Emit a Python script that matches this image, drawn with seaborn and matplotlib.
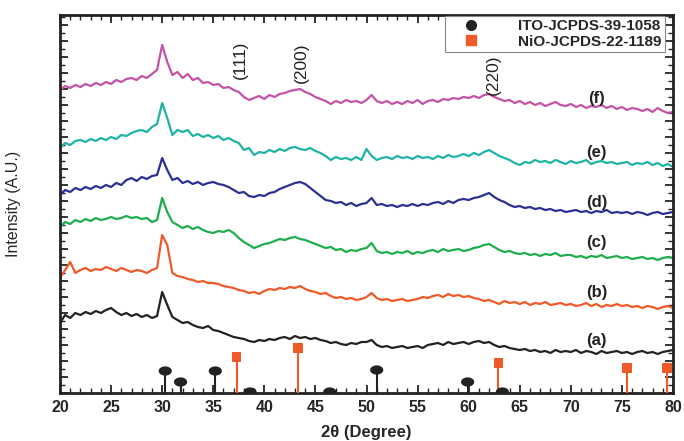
import numpy as np
import pandas as pd
import matplotlib
matplotlib.use("Agg")
import matplotlib.pyplot as plt
from matplotlib.ticker import MultipleLocator
from matplotlib.lines import Line2D
from matplotlib.path import Path
import seaborn as sns

# ---- data (2theta grid in degrees, 0.5 deg step from 20 to 80) ----
two_theta = [20.0 + 0.5 * i for i in range(121)]

int_a = [70, 78, 75, 80, 78, 81, 79, 82, 80, 83,
         85, 81, 78, 80, 77, 79, 76, 78, 75, 77,
         101, 88, 76, 73, 70, 71, 68, 66, 65, 67,
         63, 62, 60, 58, 56, 55, 54, 52, 51, 53,
         52, 54, 53, 55, 56, 54, 57, 55, 56, 54,
         55, 53, 52, 50, 51, 49, 48, 50, 49, 51,
         51, 53, 48, 46, 47, 45, 46, 47, 45, 46,
         47, 45, 48, 49, 50, 48, 51, 49, 50, 51,
         49, 51, 52, 50, 51, 48, 46, 47, 45, 44,
         43, 44, 42, 43, 41, 42, 40, 43, 41, 42,
         41, 43, 40, 42, 41, 39, 42, 40, 41, 42,
         40, 41, 39, 41, 42, 40, 41, 39, 41, 42,
         43]
int_b = [115, 123, 131, 120, 123, 125, 122, 124, 123, 126,
         124, 122, 125, 123, 121, 123, 122, 120, 123, 125,
         158, 148, 120, 117, 116, 114, 113, 111, 112, 110,
         110, 109, 107, 106, 105, 103, 102, 100, 101, 99,
         102, 104, 103, 105, 104, 106, 105, 107, 104, 102,
         101, 99, 100, 97, 95, 96, 94, 95, 93, 94,
         96, 100, 95, 93, 94, 92, 93, 94, 92, 93,
         94, 96, 95, 97, 98, 96, 99, 97, 98, 96,
         97, 95, 94, 92, 93, 91, 89, 92, 90, 91,
         89, 91, 88, 90, 89, 91, 88, 89, 90, 88,
         89, 87, 88, 90, 87, 89, 86, 88, 87, 89,
         87, 88, 86, 87, 85, 87, 86, 84, 86, 87,
         85]
int_c = [166, 171, 169, 173, 171, 174, 172, 175, 173, 174,
         176, 174, 175, 177, 175, 176, 174, 175, 171, 173,
         195, 181, 171, 168, 165, 167, 164, 166, 163, 161,
         160, 162, 161, 163, 160, 155, 151, 148, 145, 147,
         149, 150, 152, 154, 153, 155, 156, 154, 153, 151,
         149, 147, 145, 146, 143, 144, 141, 143, 142, 144,
         145, 150, 142, 140, 141, 139, 141, 140, 142, 139,
         141, 140, 142, 143, 141, 144, 142, 143, 144, 142,
         143, 145, 146, 148, 149, 146, 143, 141, 142, 140,
         139, 140, 138, 139, 137, 139, 138, 140, 137, 138,
         138, 136, 137, 135, 137, 136, 138, 135, 136, 137,
         135, 136, 134, 135, 136, 134, 135, 133, 135, 136,
         135]
int_d = [198, 203, 201, 205, 203, 206, 204, 207, 205, 208,
         206, 210, 208, 213, 215, 212, 216, 214, 217, 218,
         235, 223, 213, 215, 210, 212, 209, 211, 208, 210,
         211, 209, 208, 206, 203, 200, 201, 197, 196, 198,
         197, 200, 201, 204, 206, 208, 210, 211, 209, 205,
         201, 197, 193, 192, 190, 191, 188, 190, 187, 189,
         190, 195, 188, 189, 187, 188, 186, 188, 187, 189,
         187, 189, 188, 190, 191, 189, 192, 190, 193, 194,
         193, 195, 196, 198, 200, 196, 193, 191, 188, 186,
         187, 185, 186, 184, 185, 183, 184, 182, 183, 181,
         182, 183, 181, 182, 180, 182, 181, 183, 180, 181,
         180, 181, 179, 181, 180, 178, 180, 181, 179, 180,
         181]
int_e = [245, 250, 248, 252, 253, 251, 254, 252, 255, 253,
         256, 254, 258, 257, 260, 262, 263, 261, 266, 269,
         290, 275, 258, 263, 261, 263, 257, 259, 256, 258,
         255, 257, 253, 255, 252, 250, 243, 245, 238, 241,
         240, 243, 241, 244, 242, 245, 246, 244, 243, 245,
         242, 240, 237, 233, 236, 234, 235, 233, 236, 233,
         244, 237, 233, 235, 236, 234, 237, 235, 236, 234,
         237, 235, 236, 234, 237, 235, 238, 236, 237, 239,
         237, 240, 238, 241, 243, 240, 237, 235, 233, 230,
         228, 231, 230, 233, 231, 232, 230, 233, 231, 229,
         232, 230, 231, 233, 229, 231, 232, 230, 231, 229,
         230, 231, 228, 230, 229, 231, 228, 230, 227, 229,
         226]
int_f = [303, 307, 305, 308, 306, 309, 307, 310, 308, 311,
         309, 313, 311, 314, 315, 313, 317, 315, 319, 323,
         348, 331, 318, 321, 315, 319, 313, 315, 310, 311,
         308, 309, 305, 306, 303, 301, 296, 293, 295, 297,
         294, 298, 296, 299, 300, 302, 303, 304, 301, 299,
         296, 294, 292, 289, 292, 290, 293, 291, 292, 290,
         293, 298, 292, 290, 292, 289, 291, 289, 292, 290,
         293, 289, 292, 293, 291, 294, 293, 295, 294, 296,
         295, 297, 295, 298, 299, 296, 294, 292, 293, 290,
         292, 289, 291, 288, 290, 287, 289, 291, 288, 287,
         289, 286, 288, 285, 287, 286, 288, 285, 287, 284,
         286, 283, 285, 284, 282, 284, 281, 285, 282, 280,
         281]

sample_labels = ["(a)", "(b)", "(c)", "(d)", "(e)", "(f)"]
label_y = [53, 100, 150, 191, 240, 295]

ito_pos = [30.3, 31.8, 35.2, 38.6, 46.4, 51.0, 59.9, 63.3]
ito_height = [22, 11, 22, 1, 1, 23, 11, 1]
nio_pos = [37.3, 43.3, 62.9, 75.5, 79.4]
nio_height = [36, 45, 30, 25, 25]

plane_labels = ["(111)", "(200)", "(220)"]
plane_x = [37.7, 43.6, 62.4]
plane_y = [333, 330, 318]

legend_labels = ["ITO-JCPDS-39-1058", "NiO-JCPDS-22-1189"]

colors = ["#222222", "#f05a28", "#1fae4b", "#2b3192", "#1fb3a6", "#c452a8"]

series = [int_a, int_b, int_c, int_d, int_e, int_f]
df = pd.concat([pd.DataFrame({"two_theta": two_theta, "intensity": s, "sample": lab})
                for s, lab in zip(series, sample_labels)], ignore_index=True)

sns.set_theme(style="white")
plt.rcParams["font.family"] = ["Liberation Sans", "DejaVu Sans"]

fig = plt.figure(figsize=(6.84, 4.41), dpi=100)
ax = fig.add_axes([60 / 684, 48 / 441, 613 / 684, 378 / 441])

sns.lineplot(data=df, x="two_theta", y="intensity", hue="sample",
             palette=dict(zip(sample_labels, colors)), linewidth=1.6,
             legend=False, ax=ax, estimator=None, sort=False)

# reference pattern sticks
ax.vlines(ito_pos, 0, ito_height, color="#222222", linewidth=1.5, zorder=3)
ax.vlines(nio_pos, 0, nio_height, color="#f05a28", linewidth=1.5, zorder=3)
t = np.linspace(0, 2 * np.pi, 40)
ellipse = Path(np.column_stack([np.cos(t), 0.7 * np.sin(t)]))
sns.scatterplot(x=ito_pos, y=ito_height, marker=ellipse, s=90, color="#222222",
                edgecolor="none", ax=ax, zorder=4, legend=False)
sns.scatterplot(x=nio_pos, y=nio_height, marker="s", s=45, color="#f05a28",
                edgecolor="none", ax=ax, zorder=4, legend=False)

for lab, yy in zip(sample_labels, label_y):
    ax.text(72.5, yy, lab, fontsize=12, fontweight="bold", ha="center", va="center",
            color="#222222")
for lab, xx, yy in zip(plane_labels, plane_x, plane_y):
    ax.text(xx, yy, lab, fontsize=12.5, rotation=90, ha="center", va="center",
            color="#222222")

ax.set_xlim(20, 80)
ax.set_ylim(0, 378)
ax.xaxis.set_major_locator(MultipleLocator(5))
ax.xaxis.set_minor_locator(MultipleLocator(1))
ax.yaxis.set_major_locator(MultipleLocator(16))
ax.yaxis.set_minor_locator(MultipleLocator(8))
ax.tick_params(axis="both", which="both", direction="in", top=True, right=True,
               bottom=True, left=True, color="#222222")
ax.tick_params(axis="both", which="major", length=6, width=1.3)
ax.tick_params(axis="both", which="minor", length=3.5, width=1.0)
ax.tick_params(axis="y", which="both", labelleft=False)
ax.tick_params(axis="x", which="major", labelsize=11.5, pad=5)
for lbl in ax.get_xticklabels():
    lbl.set_fontweight("bold")
for sp in ax.spines.values():
    sp.set_linewidth(2)
    sp.set_color("#222222")

ax.set_xlabel("2θ (Degree)", fontsize=12, fontweight="bold", labelpad=7)
ax.set_ylabel("Intensity (A.U.)", fontsize=11.5, labelpad=28)

handles = [Line2D([], [], marker="o", linestyle="none", color="#222222", markersize=7),
           Line2D([], [], marker="s", linestyle="none", color="#f05a28", markersize=6.5)]
leg = ax.legend(handles, legend_labels, loc="upper right",
                bbox_to_anchor=(0.987, 0.997), borderaxespad=0, fancybox=False,
                framealpha=1, edgecolor="#888888", prop={"size": 11, "weight": "bold"},
                handletextpad=1.6, borderpad=0.2, labelspacing=0.1, handlelength=3.0)
leg.get_frame().set_linewidth(0.8)

fig.savefig("out.png", dpi=100)
